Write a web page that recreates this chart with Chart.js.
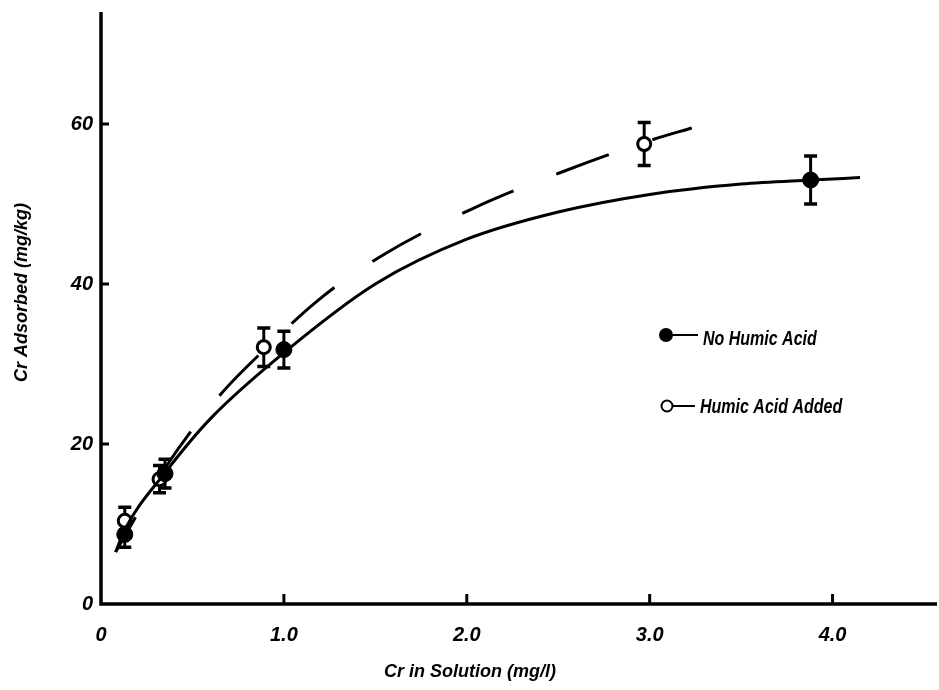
<!DOCTYPE html>
<html><head><meta charset="utf-8">
<script src="https://cdn.jsdelivr.net/npm/chart.js@4.4.0/dist/chart.umd.min.js"></script>
<style>html,body{margin:0;padding:0;background:#fff}#wrap{width:939px;height:690px;position:relative}</style>
</head><body><div id="wrap"><canvas id="c" width="939" height="690"></canvas></div>
<script>
// Measured points
const noHumicX = [0.13, 0.35, 1.0, 3.88];
const noHumicY = [8.7, 16.3, 31.8, 53.0];
const noHumicErr = [1.6, 1.8, 2.3, 3.0];
const humicX = [0.13, 0.32, 0.89, 2.97];
const humicY = [10.4, 15.6, 32.1, 57.5];
const humicErr = [1.7, 1.7, 2.4, 2.7];
// Fitted curves
const solidFitX = [0.08, 0.13, 0.35, 0.6, 1.0, 1.5, 2.0, 2.5, 3.0, 3.5, 3.88, 4.15];
const solidFitY = [6.5, 9.3, 16.4, 23.2, 31.4, 40.0, 45.6, 49.0, 51.2, 52.5, 53.0, 53.3];
const dashFitX = [0.08, 0.35, 0.65, 0.885, 1.2, 1.54, 2.03, 2.52, 3.01, 3.23];
const dashFitY = [6.5, 17.0, 26.1, 31.6, 38.2, 43.6, 49.4, 54.0, 58.0, 59.5];
const xTicks = [0, 1, 2, 3, 4];
const xTickLabels = ['0', '1.0', '2.0', '3.0', '4.0'];
const yTicks = [0, 20, 40, 60];
const legendLabels = ['No Humic Acid', 'Humic Acid Added'];
const xTitle = 'Cr in Solution (mg/l)';
const yTitle = 'Cr Adsorbed (mg/kg)';

const pts = (xs, ys) => xs.map((x, i) => ({x, y: ys[i]}));
const SANS = '"Liberation Sans", Arial, sans-serif';

const extras = {
  id: 'extras',
  beforeDatasetsDraw(chart) {
    const ctx = chart.ctx, xs = chart.scales.x, ys = chart.scales.y;
    ctx.save();
    ctx.strokeStyle = '#000';
    const drawErr = (X, Y, E) => {
      X.forEach((x, i) => {
        const px = xs.getPixelForValue(x);
        const top = ys.getPixelForValue(Y[i] + E[i]);
        const bot = ys.getPixelForValue(Y[i] - E[i]);
        ctx.lineWidth = 3;
        ctx.beginPath(); ctx.moveTo(px, top); ctx.lineTo(px, bot); ctx.stroke();
        ctx.lineWidth = 3.5;
        ctx.beginPath(); ctx.moveTo(px - 6.5, top); ctx.lineTo(px + 6.5, top);
        ctx.moveTo(px - 6.5, bot); ctx.lineTo(px + 6.5, bot); ctx.stroke();
      });
    };
    drawErr(noHumicX, noHumicY, noHumicErr);
    drawErr(humicX, humicY, humicErr);
    ctx.restore();
  },
  afterDatasetsDraw(chart) {
    const ctx = chart.ctx, xs = chart.scales.x, ys = chart.scales.y;
    ctx.save();
    ctx.strokeStyle = '#000';
    ctx.fillStyle = '#000';
    const a = chart.chartArea;
    ctx.lineWidth = 3.5;
    ctx.beginPath();
    ctx.moveTo(a.left, a.top); ctx.lineTo(a.left, a.bottom); ctx.lineTo(chart.width - 2, a.bottom);
    ctx.stroke();
    ctx.lineWidth = 3;
    ctx.beginPath();
    yTicks.forEach(v => { if (v === 0) return; const py = ys.getPixelForValue(v); ctx.moveTo(a.left, py); ctx.lineTo(a.left + 8, py); });
    xTicks.forEach(v => { if (v === 0) return; const px = xs.getPixelForValue(v); ctx.moveTo(px, a.bottom); ctx.lineTo(px, a.bottom - 10); });
    ctx.stroke();
    // axis titles
    ctx.font = 'bold italic 18px ' + SANS;
    ctx.textAlign = 'center'; ctx.textBaseline = 'alphabetic';
    ctx.fillText(xTitle, 470, 677);
    ctx.save();
    ctx.translate(27, 292.5); ctx.rotate(-Math.PI / 2);
    ctx.fillText(yTitle, 0, 0);
    ctx.restore();
    // legend (condensed lettering)
    ctx.lineWidth = 2;
    ctx.beginPath(); ctx.arc(666, 335, 7, 0, Math.PI * 2); ctx.fill();
    ctx.beginPath(); ctx.moveTo(666, 335); ctx.lineTo(698, 335); ctx.stroke();
    ctx.beginPath(); ctx.arc(667, 406, 5.5, 0, Math.PI * 2); ctx.stroke();
    ctx.beginPath(); ctx.moveTo(672.5, 406); ctx.lineTo(695, 406); ctx.stroke();
    ctx.font = 'bold italic 20px ' + SANS;
    ctx.textAlign = 'left';
    ctx.save(); ctx.translate(703, 345); ctx.scale(0.8, 1); ctx.fillText(legendLabels[0], 0, 0); ctx.restore();
    ctx.save(); ctx.translate(700, 413); ctx.scale(0.8, 1); ctx.fillText(legendLabels[1], 0, 0); ctx.restore();
    ctx.restore();
  }
};

new Chart(document.getElementById('c'), {
  type: 'scatter',
  data: {
    datasets: [
      { label: 'fitSolid', data: pts(solidFitX, solidFitY), showLine: true, borderColor: '#000', borderWidth: 3,
        pointRadius: 0, cubicInterpolationMode: 'monotone', fill: false },
      { label: 'fitDash', data: pts(dashFitX, dashFitY), showLine: true, borderColor: '#000', borderWidth: 3,
        borderDash: [56, 46], borderDashOffset: 16, pointRadius: 0, cubicInterpolationMode: 'monotone', fill: false },
      { label: legendLabels[0], data: pts(noHumicX, noHumicY), showLine: false, pointRadius: 8,
        pointBackgroundColor: '#000', pointBorderColor: '#000', pointBorderWidth: 1 },
      { label: legendLabels[1], data: pts(humicX, humicY), showLine: false, pointRadius: 6.5,
        pointBackgroundColor: '#fff', pointBorderColor: '#000', pointBorderWidth: 3 }
    ]
  },
  options: {
    responsive: false, animation: false,
    layout: { padding: { top: 12, right: 2, left: 0, bottom: 0 } },
    plugins: { legend: { display: false }, tooltip: { enabled: false } },
    scales: {
      x: {
        type: 'linear', min: 0, max: 4.53,
        afterFit(s) { s.height = 86; s.paddingLeft = 0; s.paddingRight = 0; },
        afterBuildTicks(s) { s.ticks = xTicks.map(v => ({value: v})); },
        grid: { display: false, drawTicks: false },
        border: { display: false },
        ticks: { padding: 19, color: '#000', font: { family: SANS, size: 20, style: 'italic', weight: 'bold' },
          maxRotation: 0, autoSkip: false, callback: (v) => xTickLabels[xTicks.indexOf(v)] }
      },
      y: {
        type: 'linear', min: 0, max: 74,
        afterFit(s) { s.width = 101; s.paddingTop = 0; s.paddingBottom = 0; },
        afterBuildTicks(s) { s.ticks = yTicks.map(v => ({value: v})); },
        grid: { display: false, drawTicks: false },
        border: { display: false },
        ticks: { padding: 8, color: '#000', autoSkip: false, font: { family: SANS, size: 20, style: 'italic', weight: 'bold' } }
      }
    }
  },
  plugins: [extras]
});
</script></body></html>
